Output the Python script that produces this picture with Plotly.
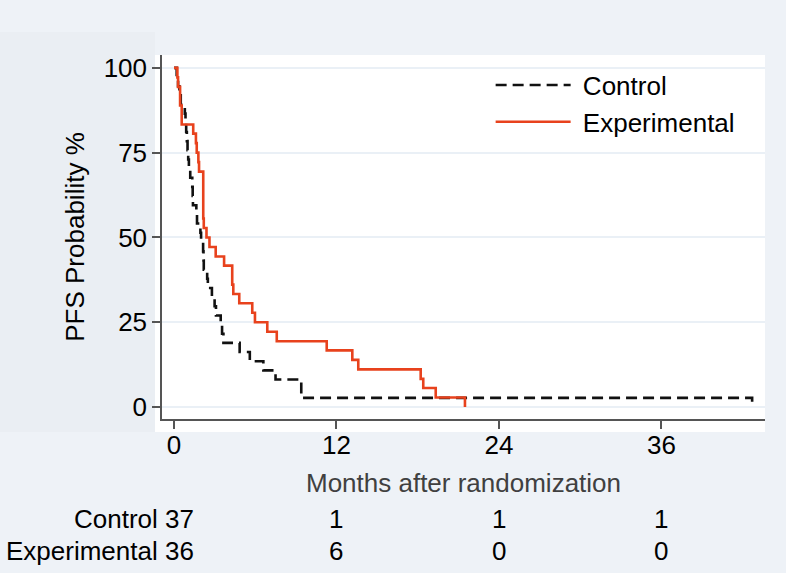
import plotly.graph_objects as go

# Kaplan-Meier steps (months, PFS %)
ctrl_t = [0, 0.2, 0.3, 0.4, 0.5, 0.8, 0.85, 0.9, 0.95, 1.0, 1.05, 1.1, 1.2, 1.35, 1.38,
          1.4, 1.65, 1.7, 1.95, 2.0, 2.15, 2.18, 2.2, 2.45, 2.5, 2.8, 3.0, 3.1, 3.45, 3.55,
          3.65, 4.85, 5.6, 6.6, 7.5, 9.4, 42.7]
ctrl_s = [100, 97.3, 94.6, 91.9, 89.2, 86.5, 83.8, 81.1, 78.4, 75.7, 73.0, 70.3, 67.6, 64.9, 62.2,
          59.5, 56.8, 54.1, 51.4, 48.6, 45.9, 43.2, 40.5, 37.8, 35.1, 32.4, 29.7, 27.0, 24.3, 21.6,
          18.9, 16.2, 13.5, 10.8, 8.1, 2.7, 0]

exp_t = [0, 0.25, 0.3, 0.45, 0.57, 1.42, 1.62, 1.68, 1.8, 1.85, 2.16, 2.2, 2.4, 2.62, 3.08,
         3.7, 4.3, 4.38, 4.82, 5.78, 5.98, 6.89, 7.59, 11.28, 13.17, 13.61, 18.22, 18.41, 19.33, 21.49]
exp_s = [100, 97.2, 94.4, 88.9, 83.3, 80.6, 77.8, 75.0, 72.2, 69.4, 55.6, 52.8, 50.0, 47.2, 44.4,
         41.7, 36.1, 33.3, 30.6, 27.8, 25.0, 22.2, 19.4, 16.7, 13.9, 11.1, 8.3, 5.6, 2.8, 0]

# number at risk table
risk_times = [12, 24, 36]
risk_ctrl = [1, 1, 1]
risk_exp = [6, 0, 0]
risk_labels = ["Control 37", "Experimental 36"]

x_ticks = [0, 12, 24, 36]
y_ticks = [0, 25, 50, 75, 100]

FONT = "Liberation Sans, Arial, Helvetica, sans-serif"
RED = "#e8421d"
NBSP = "\u00a0"


def main():
    fig = go.Figure()

    fig.add_trace(go.Scatter(x=ctrl_t, y=ctrl_s, mode="lines", name=NBSP + "Control",
                             line=dict(color="#111111", width=2.6, dash="11px,6px", shape="hv")))
    fig.add_trace(go.Scatter(x=exp_t, y=exp_s, mode="lines", name=NBSP + "Experimental",
                             line=dict(color=RED, width=2.6, shape="hv")))

    # background panels (graph region / plot region)
    fig.add_shape(type="rect", xref="paper", yref="paper", layer="below",
                  x0=-0.27, x1=-0.0116, y0=-0.0357, y1=1.063,
                  fillcolor="#eaeef3", line_width=0)
    fig.add_shape(type="rect", xref="paper", yref="paper", layer="below",
                  x0=-0.0116, x1=1.0, y0=-0.0357, y1=1.0,
                  fillcolor="white", line_width=0)

    # at-risk table
    for lab, yy in zip(risk_labels, [-0.275, -0.363]):
        fig.add_annotation(text=lab, xref="paper", yref="paper", x=0.0564, y=yy,
                           xanchor="right", yanchor="middle", showarrow=False,
                           font=dict(size=26, color="black", family=FONT))
    for vals, yy in zip([risk_ctrl, risk_exp], [-0.275, -0.363]):
        for t, v in zip(risk_times, vals):
            fig.add_annotation(text=str(v), xref="x", yref="paper", x=t, y=yy,
                               xanchor="center", yanchor="middle", showarrow=False,
                               font=dict(size=26, color="black", family=FONT))

    fig.update_xaxes(range=[-0.886, 43.65], tickvals=x_ticks, showgrid=False, zeroline=False,
                     showline=True, linecolor="#555555", linewidth=1.5,
                     ticks="outside", ticklen=8, tickwidth=1.5, tickcolor="#555555",
                     ticklabelstandoff=-6,
                     tickfont=dict(size=26, color="black", family=FONT),
                     title=dict(text="Months after randomization", standoff=15,
                                font=dict(size=26, color="#404040", family=FONT)))
    fig.update_yaxes(range=[-3.54, 103.8], tickvals=y_ticks, zeroline=False,
                     showgrid=True, gridcolor="#eaf0f6", gridwidth=1.5,
                     showline=True, linecolor="#555555", linewidth=1.5,
                     ticks="outside", ticklen=8, tickwidth=1.5, tickcolor="#555555",
                     tickfont=dict(size=26, color="black", family=FONT),
                     title=dict(text="PFS Probability %", standoff=12,
                                font=dict(size=26, color="black", family=FONT)))

    fig.update_layout(
        width=786, height=573,
        margin=dict(l=162, r=21, t=55, b=154),
        paper_bgcolor="#eef2f7", plot_bgcolor="rgba(0,0,0,0)",
        font=dict(family=FONT, size=26, color="black"),
        legend=dict(x=0.545, y=0.982, xanchor="left", yanchor="top",
                    bgcolor="rgba(0,0,0,0)", itemwidth=75, tracegroupgap=0,
                    font=dict(size=26, color="black", family=FONT)),
    )

    fig.write_html("out.html", config={"displayModeBar": False},
                   post_script="document.body.style.margin='0';")


if __name__ == "__main__":
    main()
